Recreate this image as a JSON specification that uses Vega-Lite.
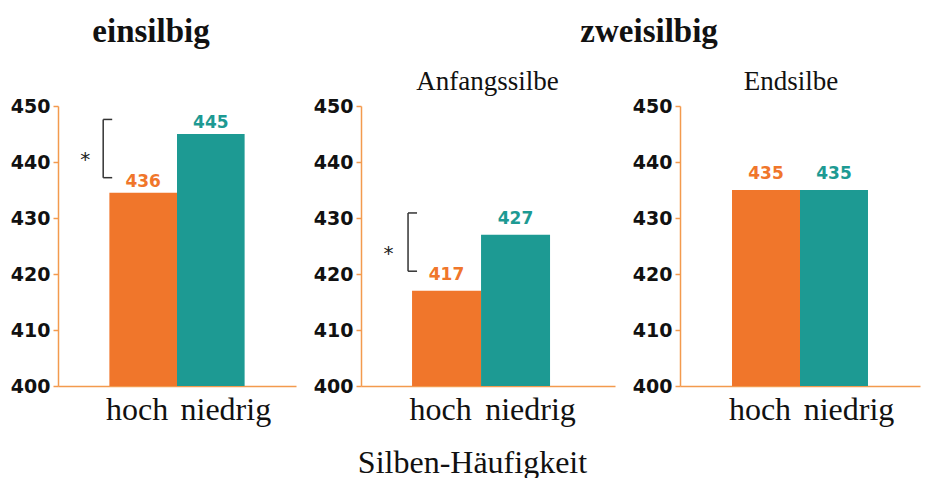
{
  "$schema": "https://vega.github.io/schema/vega-lite/v6.json",
  "background": "white",
  "padding": {"left": 10, "top": 16, "right": 5, "bottom": 0},
  "datasets": {
    "bars": [
      {"panel": "einsilbig", "cond": "hoch", "rt": 434.5, "label": "436"},
      {"panel": "einsilbig", "cond": "niedrig", "rt": 445, "label": "445"},
      {"panel": "Anfangssilbe", "cond": "hoch", "rt": 417, "label": "417"},
      {"panel": "Anfangssilbe", "cond": "niedrig", "rt": 427, "label": "427"},
      {"panel": "Endsilbe", "cond": "hoch", "rt": 435, "label": "435"},
      {"panel": "Endsilbe", "cond": "niedrig", "rt": 435, "label": "435"}
    ],
    "brackets": [
      {"panel": "einsilbig", "cond": "hoch", "top": 447.6, "bottom": 437.2, "mid": 441.5, "sig": "*"},
      {"panel": "Anfangssilbe", "cond": "hoch", "top": 430.9, "bottom": 420.5, "mid": 424.6, "sig": "*"}
    ]
  },
  "title": {"text": "zweisilbig", "anchor": "start", "dx": 570, "offset": -59, "baseline": "alphabetic", "fontSize": 33, "fontWeight": "bold", "font": "Liberation Serif", "color": "#111"},
  "spacing": 17,
  "hconcat": [
    {
      "width": 238, "height": 280,
      "title": {"text": "einsilbig", "font": "Liberation Serif", "fontSize": 33, "fontWeight": "bold", "anchor": "middle", "dx": -26, "baseline": "alphabetic", "offset": 22, "color": "#111"},
      "encoding": {
        "x": {"field": "cond", "type": "nominal", "sort": ["hoch", "niedrig"],
              "scale": {"domain": ["hoch", "niedrig"], "paddingInner": 0, "paddingOuter": 0.76, "align": 0.5},
              "axis": {"title": null, "labelOffset": {"condition": {"test": "datum.value === 'hoch'", "value": -6}, "value": 15}}}
      },
      "layer": [
        {
          "data": {"name": "bars"},
          "transform": [{"filter": "datum.panel === 'einsilbig'"}],
          "mark": {"type": "bar"},
          "encoding": {
            "y": {"field": "rt", "type": "quantitative", "scale": {"domain": [400, 450], "zero": false, "nice": false}, "axis": {"title": null, "values": [400, 410, 420, 430, 440, 450]}},
            "y2": {"datum": 400},
            "color": {"field": "cond", "type": "nominal", "scale": {"domain": ["hoch", "niedrig"], "range": ["#f0762b", "#1d9a93"]}, "legend": null}
          }
        },
        {
          "data": {"name": "bars"},
          "transform": [{"filter": "datum.panel === 'einsilbig'"}],
          "mark": {"type": "text", "baseline": "alphabetic", "dy": -6, "font": "DejaVu Sans", "fontSize": 17, "fontWeight": "bold"},
          "encoding": {
            "y": {"field": "rt", "type": "quantitative"},
            "text": {"field": "label"},
            "color": {"field": "cond", "type": "nominal", "legend": null}
          }
        },
        {
          "data": {"name": "brackets"},
          "transform": [{"filter": "datum.panel === 'einsilbig'"}],
          "mark": {"type": "rule", "xOffset": -40, "strokeWidth": 1.5, "color": "#333"},
          "encoding": {"y": {"field": "top", "type": "quantitative"}, "y2": {"field": "bottom"}}
        },
        {
          "data": {"name": "brackets"},
          "transform": [{"filter": "datum.panel === 'einsilbig'"}],
          "mark": {"type": "tick", "orient": "horizontal", "size": 9, "thickness": 1.5, "xOffset": -35.5, "color": "#333", "opacity": 1},
          "encoding": {"y": {"field": "top", "type": "quantitative"}}
        },
        {
          "data": {"name": "brackets"},
          "transform": [{"filter": "datum.panel === 'einsilbig'"}],
          "mark": {"type": "tick", "orient": "horizontal", "size": 9, "thickness": 1.5, "xOffset": -35.5, "color": "#333", "opacity": 1},
          "encoding": {"y": {"field": "bottom", "type": "quantitative"}}
        },
        {
          "data": {"name": "brackets"},
          "transform": [{"filter": "datum.panel === 'einsilbig'"}],
          "mark": {"type": "text", "xOffset": -58, "dy": 6, "fontSize": 20, "font": "DejaVu Sans", "color": "#222"},
          "encoding": {"y": {"field": "mid", "type": "quantitative"}, "text": {"field": "sig"}}
        }
      ]
    },
    {
      "width": 254, "height": 280,
      "title": {"text": "Anfangssilbe", "font": "Liberation Serif", "fontSize": 27, "fontWeight": "normal", "anchor": "start", "dx": 103, "baseline": "alphabetic", "offset": -20, "color": "#111"},
      "encoding": {
        "x": {"field": "cond", "type": "nominal", "sort": ["hoch", "niedrig"],
              "scale": {"domain": ["hoch", "niedrig"], "paddingInner": 0, "paddingOuter": 0.8406, "align": 0.44},
              "axis": {"title": "Silben-Häufigkeit", "titleFont": "Liberation Serif", "titleFontSize": 32, "titleFontWeight": "normal", "titleColor": "#111", "titleX": 111, "titleY": 86, "titleBaseline": "alphabetic", "labelOffset": {"condition": {"test": "datum.value === 'hoch'", "value": -6}, "value": 15}}}
      },
      "layer": [
        {
          "data": {"name": "bars"},
          "transform": [{"filter": "datum.panel === 'Anfangssilbe'"}],
          "mark": {"type": "bar"},
          "encoding": {
            "y": {"field": "rt", "type": "quantitative", "scale": {"domain": [400, 450], "zero": false, "nice": false}, "axis": {"title": null, "values": [400, 410, 420, 430, 440, 450]}},
            "y2": {"datum": 400},
            "color": {"field": "cond", "type": "nominal", "scale": {"domain": ["hoch", "niedrig"], "range": ["#f0762b", "#1d9a93"]}, "legend": null}
          }
        },
        {
          "data": {"name": "bars"},
          "transform": [{"filter": "datum.panel === 'Anfangssilbe'"}],
          "mark": {"type": "text", "baseline": "alphabetic", "dy": -11, "font": "DejaVu Sans", "fontSize": 17, "fontWeight": "bold"},
          "encoding": {
            "y": {"field": "rt", "type": "quantitative"},
            "text": {"field": "label"},
            "color": {"field": "cond", "type": "nominal", "legend": null}
          }
        },
        {
          "data": {"name": "brackets"},
          "transform": [{"filter": "datum.panel === 'Anfangssilbe'"}],
          "mark": {"type": "rule", "xOffset": -38.5, "strokeWidth": 1.5, "color": "#333"},
          "encoding": {"y": {"field": "top", "type": "quantitative"}, "y2": {"field": "bottom"}}
        },
        {
          "data": {"name": "brackets"},
          "transform": [{"filter": "datum.panel === 'Anfangssilbe'"}],
          "mark": {"type": "tick", "orient": "horizontal", "size": 9, "thickness": 1.5, "xOffset": -34, "color": "#333", "opacity": 1},
          "encoding": {"y": {"field": "top", "type": "quantitative"}}
        },
        {
          "data": {"name": "brackets"},
          "transform": [{"filter": "datum.panel === 'Anfangssilbe'"}],
          "mark": {"type": "tick", "orient": "horizontal", "size": 9, "thickness": 1.5, "xOffset": -34, "color": "#333", "opacity": 1},
          "encoding": {"y": {"field": "bottom", "type": "quantitative"}}
        },
        {
          "data": {"name": "brackets"},
          "transform": [{"filter": "datum.panel === 'Anfangssilbe'"}],
          "mark": {"type": "text", "xOffset": -58, "dy": 6, "fontSize": 20, "font": "DejaVu Sans", "color": "#222"},
          "encoding": {"y": {"field": "mid", "type": "quantitative"}, "text": {"field": "sig"}}
        }
      ]
    },
    {
      "width": 240, "height": 280,
      "title": {"text": "Endsilbe", "font": "Liberation Serif", "fontSize": 27, "fontWeight": "normal", "anchor": "middle", "dx": -9, "baseline": "alphabetic", "offset": -20, "color": "#111"},
      "encoding": {
        "x": {"field": "cond", "type": "nominal", "sort": ["hoch", "niedrig"],
              "scale": {"domain": ["hoch", "niedrig"], "paddingInner": 0, "paddingOuter": 0.765, "align": 0.5},
              "axis": {"title": null, "labelOffset": {"condition": {"test": "datum.value === 'hoch'", "value": -6}, "value": 15}}}
      },
      "layer": [
        {
          "data": {"name": "bars"},
          "transform": [{"filter": "datum.panel === 'Endsilbe'"}],
          "mark": {"type": "bar"},
          "encoding": {
            "y": {"field": "rt", "type": "quantitative", "scale": {"domain": [400, 450], "zero": false, "nice": false}, "axis": {"title": null, "values": [400, 410, 420, 430, 440, 450]}},
            "y2": {"datum": 400},
            "color": {"field": "cond", "type": "nominal", "scale": {"domain": ["hoch", "niedrig"], "range": ["#f0762b", "#1d9a93"]}, "legend": null}
          }
        },
        {
          "data": {"name": "bars"},
          "transform": [{"filter": "datum.panel === 'Endsilbe'"}],
          "mark": {"type": "text", "baseline": "alphabetic", "dy": -11, "font": "DejaVu Sans", "fontSize": 17, "fontWeight": "bold"},
          "encoding": {
            "y": {"field": "rt", "type": "quantitative"},
            "text": {"field": "label"},
            "color": {"field": "cond", "type": "nominal", "legend": null}
          }
        }
      ]
    }
  ],
  "config": {
    "view": {"stroke": null},
    "axis": {"domainColor": "#f39a4e", "domainWidth": 1.5, "tickColor": "#f39a4e", "tickWidth": 1.5, "grid": false},
    "axisY": {"labelFont": "DejaVu Sans", "labelFontSize": 19, "labelFontWeight": "bold", "labelColor": "#111", "tickSize": 5, "labelPadding": 3},
    "axisX": {"labelFont": "Liberation Serif", "labelFontSize": 32, "labelColor": "#111", "ticks": false, "tickSize": 0, "labelAngle": 0, "labelBaseline": "alphabetic", "labelPadding": 33}
  }
}
